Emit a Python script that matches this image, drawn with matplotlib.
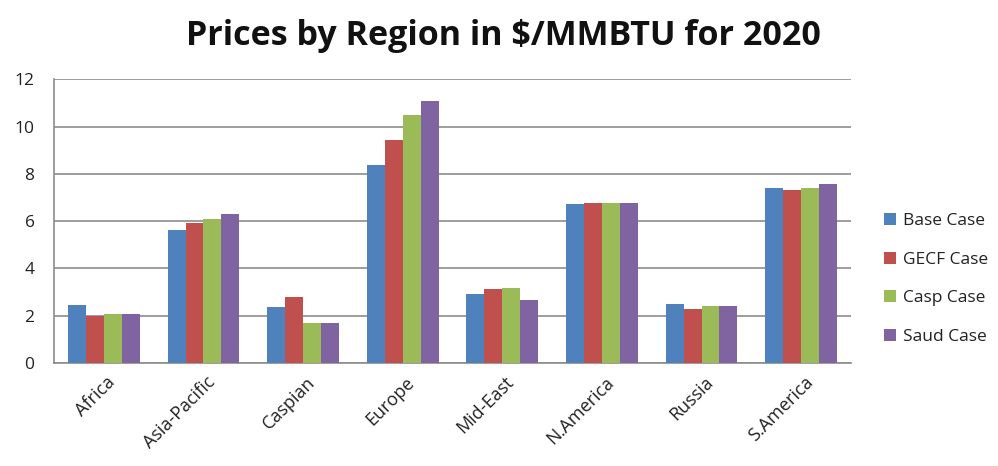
import matplotlib
matplotlib.use("Agg")
import matplotlib.pyplot as plt
import matplotlib.transforms as mtransforms
import numpy as np

regions = ["Africa", "Asia-Pacific", "Caspian", "Europe", "Mid-East", "N.America", "Russia", "S.America"]
base_case = [2.45, 5.63, 2.37, 8.36, 2.91, 6.73, 2.50, 7.39]
gecf_case = [2.00, 5.92, 2.78, 9.42, 3.12, 6.77, 2.27, 7.33]
casp_case = [2.06, 6.08, 1.68, 10.48, 3.19, 6.77, 2.41, 7.39]
saud_case = [2.09, 6.32, 1.68, 11.09, 2.67, 6.77, 2.41, 7.59]
series_names = ["Base Case", "GECF Case", "Casp Case", "Saud Case"]
colors = ["#4F81BD", "#C0504D", "#9BBB59", "#8064A2"]
yticks = [0, 2, 4, 6, 8, 10, 12]

plt.rcParams['font.family'] = ['Open Sans', 'DejaVu Sans']

fig = plt.figure(figsize=(9.98, 4.66), dpi=100)
ax = fig.add_axes([54/998, 1 - 363/466, (851-54)/998, (363-79.3)/466])

x = np.arange(len(regions))
w = 0.18
for i, (vals, name, c) in enumerate(zip([base_case, gecf_case, casp_case, saud_case], series_names, colors)):
    ax.bar(x + (i - 1.5) * w, vals, width=w, color=c, label=name, zorder=3)

ax.set_xlim(-0.5, len(regions) - 0.5)
ax.set_ylim(0, 12)
ax.set_yticks(yticks)
ax.set_yticklabels([str(t) for t in yticks], fontsize=12.5, color="#222222")
ax.yaxis.grid(True, color="#8c8c8c", linewidth=1.2, zorder=0)
ax.set_axisbelow(True)
ax.tick_params(axis='y', length=0, pad=14)
ax.tick_params(axis='x', length=0, pad=12)
ax.set_xticks(x)
ax.set_xticklabels(regions, rotation=45, ha='right', va='center', rotation_mode='anchor',
                   fontsize=13, color="#222222")
offset = mtransforms.ScaledTranslation(9/100, 0, fig.dpi_scale_trans)
for lab in ax.get_xticklabels():
    lab.set_transform(lab.get_transform() + offset)
for s in ["top", "right"]:
    ax.spines[s].set_visible(False)
for s in ["left", "bottom"]:
    ax.spines[s].set_color("#8c8c8c")
    ax.spines[s].set_linewidth(1.2)

fig.text(503/998, 1 - 45/466, "Prices by Region in $/MMBTU for 2020", ha='center', va='baseline',
         fontsize=24.5, fontweight='bold', color="#111111")

leg = ax.legend(loc='center left', bbox_to_anchor=(877/998, 1 - 279/466), bbox_transform=fig.transFigure,
                frameon=False, fontsize=12.5, handlelength=0.7, handleheight=0.7,
                handletextpad=0.4, labelspacing=1.3, borderaxespad=0)
for t in leg.get_texts():
    t.set_color("#222222")

fig.savefig("out.png", dpi=100)
